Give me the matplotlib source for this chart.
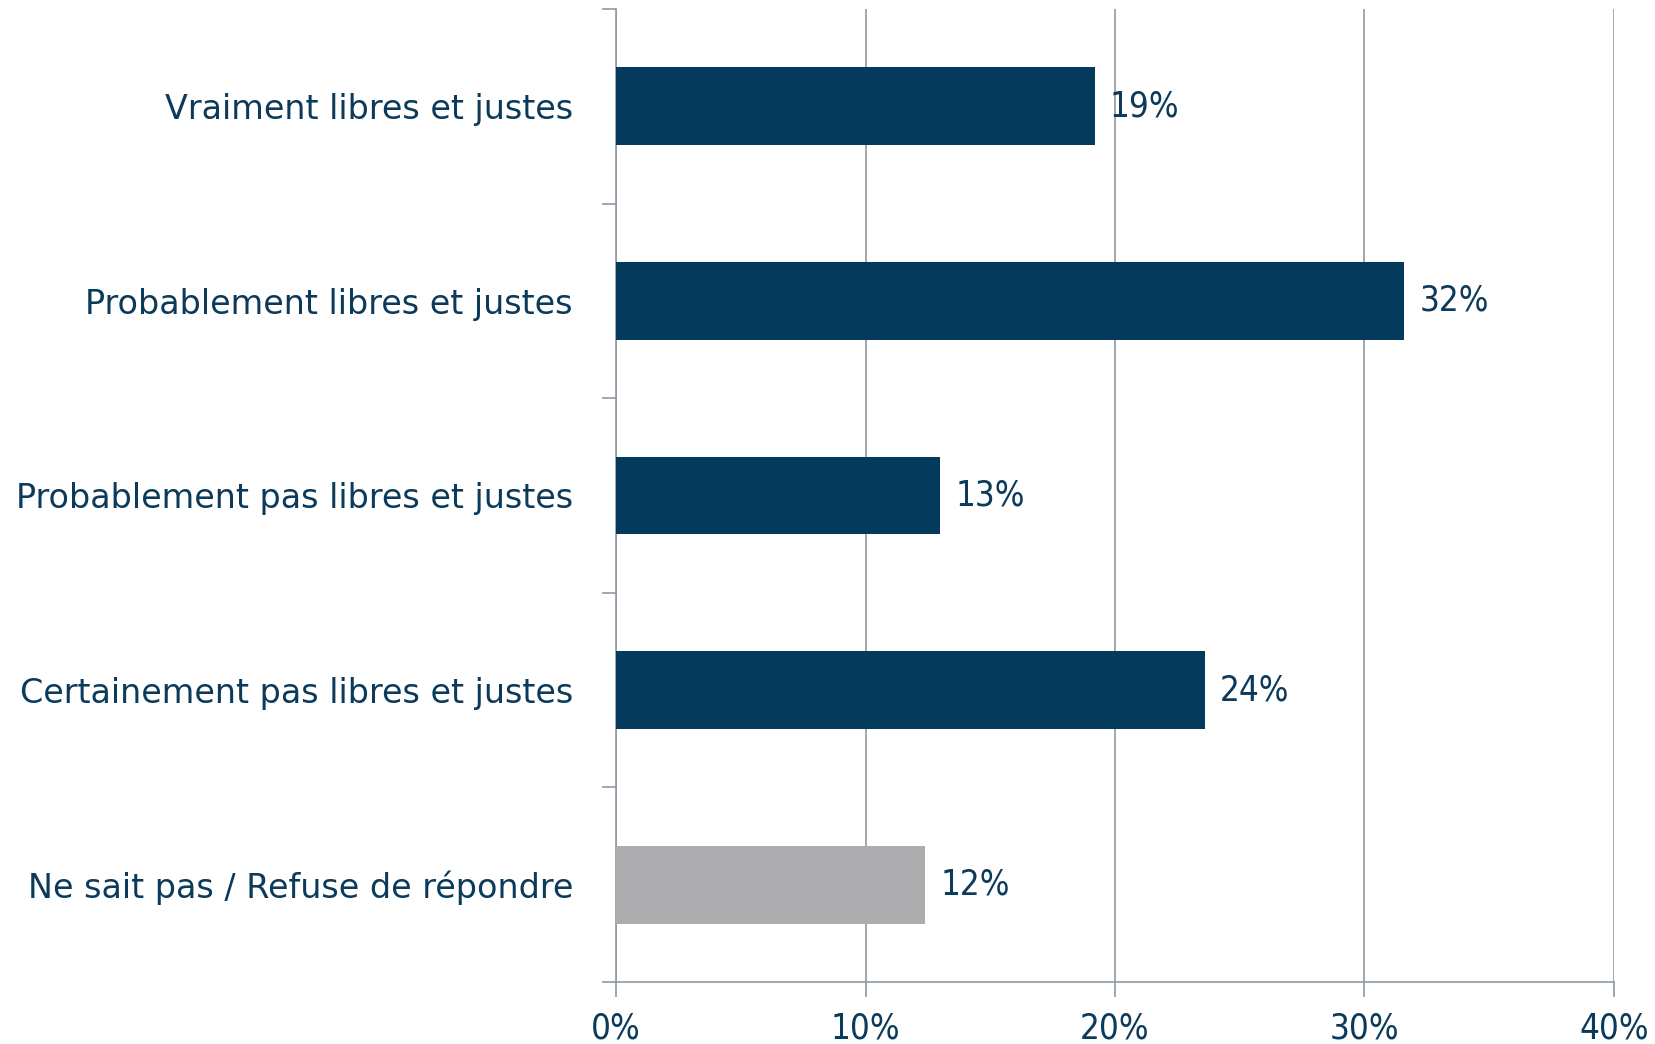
import matplotlib
matplotlib.use("Agg")
import matplotlib.pyplot as plt
from matplotlib.ticker import FixedLocator

categories = ["Vraiment libres et justes",
              "Probablement libres et justes",
              "Probablement pas libres et justes",
              "Certainement pas libres et justes",
              "Ne sait pas / Refuse de répondre"]
values = [19.2, 31.6, 13.0, 23.6, 12.4]
labels = ["19%", "32%", "13%", "24%", "12%"]
colors = ["#043a5c", "#043a5c", "#043a5c", "#043a5c", "#adadaf"]
xticks = [0, 10, 20, 30, 40]
xtick_labels = ["0%", "10%", "20%", "30%", "40%"]

navy = "#0b3a5a"
grid = "#8f98a3"

fig = plt.figure(figsize=(16.56, 10.44), dpi=100)
ax = fig.add_axes([0.372, 0.0594, 0.6026, 0.932])

y = list(range(len(categories)))
ax.barh(y, values, height=0.4, color=colors, zorder=3)
for yi, v, lab in zip(y, values, labels):
    ax.text(v + 0.6, yi, lab, va="center", ha="left", fontsize=25,
            color=navy, family="DejaVu Sans", fontstretch="condensed")

ax.set_xlim(0, 40)
ax.set_ylim(len(categories) - 0.5, -0.5)
ax.set_xticks(xticks)
ax.set_xticklabels(xtick_labels, fontsize=25, color=navy,
                   family="DejaVu Sans", fontstretch="condensed")
ax.set_yticks(y)
ax.set_yticklabels(categories, fontsize=24, color=navy, family="DejaVu Sans")
ax.tick_params(axis="y", length=0, pad=31)
ax.yaxis.set_minor_locator(FixedLocator([i - 0.5 for i in range(len(categories) + 1)]))
ax.tick_params(axis="y", which="minor", length=10, color=grid, width=1.2)
ax.tick_params(axis="x", length=11, color=grid, width=1.2, pad=10)
ax.grid(axis="x", color=grid, linewidth=1.2, zorder=0)

for s in ["top", "right"]:
    ax.spines[s].set_visible(False)
for s in ["left", "bottom"]:
    ax.spines[s].set_color(grid)
    ax.spines[s].set_linewidth(1.2)

fig.savefig("out.png", dpi=100)
